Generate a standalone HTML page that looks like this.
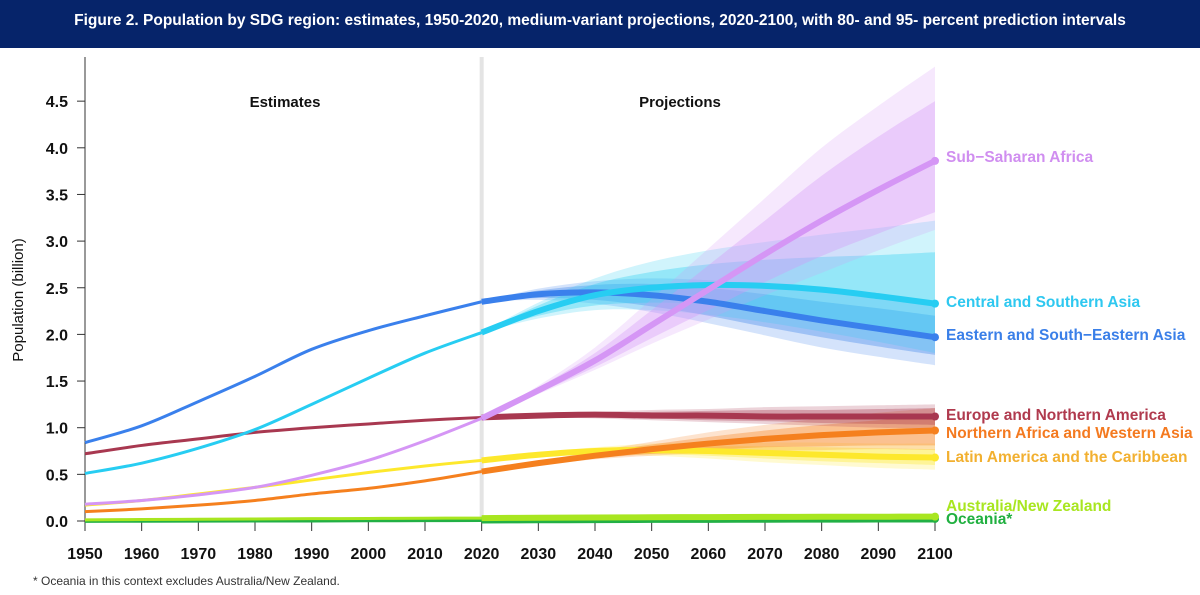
<!DOCTYPE html>
<html><head><meta charset="utf-8"><style>
body{margin:0;width:1200px;height:595px;background:#fff;overflow:hidden;font-family:"Liberation Sans",sans-serif}
#hdr{position:absolute;left:0;top:0;width:1200px;height:48px;background:#06246a;color:#fff;font-weight:bold;font-size:15.5px;text-align:center;line-height:42px;font-family:"Liberation Sans Narrow","Liberation Sans",sans-serif}
#foot{position:absolute;left:33px;top:574px;font-size:12px;color:#333}
svg{position:absolute;left:0;top:0}
</style></head><body>
<div id="hdr">Figure 2. Population by SDG region: estimates, 1950-2020, medium-variant projections, 2020-2100, with 80- and 95- percent prediction intervals</div>
<svg id="chart" width="1200" height="595"></svg>
<div id="foot">* Oceania in this context excludes Australia/New Zealand.</div>
<script>
const estYears=[1950,1960,1970,1980,1990,2000,2010,2020];
const projYears=[2020,2030,2040,2050,2060,2070,2080,2090,2100];
const xTicks=[1950,1960,1970,1980,1990,2000,2010,2020,2030,2040,2050,2060,2070,2080,2090,2100];
const yTicks=[0,0.5,1,1.5,2,2.5,3,3.5,4,4.5];
const yTickLabels=["0.0","0.5","1.0","1.5","2.0","2.5","3.0","3.5","4.0","4.5"];
const seriesNames=["Sub\u2212Saharan Africa","Central and Southern Asia","Eastern and South\u2212Eastern Asia","Europe and Northern America","Northern Africa and Western Asia","Latin America and the Caribbean","Australia/New Zealand","Oceania*"];
const seriesColors=["#d596f5","#27cdf2","#3a80ec","#a83850","#f5801e","#fde82c","#a8e620","#22b045"];
const labelColors=["#d08ef0","#2ec8f0","#3a7fe8","#b03a4e","#f47a20","#f2b030","#a8e620","#20b040"];
const labelY=[157,302,335,415,433,457,506,519];
const sEst=[[0.18,0.22,0.28,0.36,0.49,0.65,0.86,1.1],[0.51,0.62,0.78,0.98,1.25,1.53,1.8,2.02],[0.84,1.02,1.28,1.55,1.84,2.04,2.2,2.35],[0.72,0.81,0.88,0.95,1.0,1.04,1.08,1.11],[0.1,0.13,0.17,0.22,0.29,0.35,0.43,0.53],[0.17,0.22,0.29,0.36,0.44,0.52,0.59,0.65],[0.012,0.016,0.019,0.022,0.025,0.027,0.03,0.031],[0.002,0.003,0.004,0.005,0.006,0.008,0.009,0.011]];
const sProj=[[1.1,1.4,1.72,2.1,2.48,2.86,3.22,3.55,3.86],[2.02,2.25,2.42,2.5,2.53,2.52,2.48,2.41,2.33],[2.35,2.43,2.45,2.42,2.35,2.25,2.15,2.06,1.97],[1.11,1.13,1.14,1.13,1.13,1.12,1.12,1.12,1.12],[0.53,0.62,0.7,0.77,0.83,0.88,0.92,0.95,0.97],[0.65,0.71,0.75,0.76,0.75,0.73,0.71,0.69,0.68],[0.031,0.035,0.038,0.04,0.042,0.044,0.045,0.046,0.047],[0.011,0.013,0.015,0.017,0.018,0.019,0.02,0.021,0.022]];
const lo95=[[1.1,1.36,1.62,1.9,2.16,2.42,2.66,2.9,3.12],[2.02,2.17,2.26,2.26,2.21,2.13,2.03,1.92,1.8],[2.35,2.37,2.33,2.24,2.12,1.99,1.86,1.76,1.67],[1.11,1.11,1.1,1.08,1.06,1.04,1.02,1.0,0.99],[0.53,0.6,0.66,0.7,0.73,0.75,0.76,0.77,0.76],[0.65,0.69,0.71,0.7,0.67,0.63,0.6,0.57,0.55],[0.031,0.033,0.034,0.035,0.035,0.035,0.035,0.035,0.035],[0.011,0.012,0.013,0.014,0.014,0.014,0.015,0.015,0.015]];
const lo80=[[1.1,1.37,1.65,1.96,2.26,2.56,2.84,3.08,3.31],[2.02,2.2,2.31,2.34,2.32,2.26,2.18,2.07,1.96],[2.35,2.39,2.37,2.3,2.2,2.08,1.97,1.87,1.78],[1.11,1.12,1.11,1.1,1.08,1.07,1.05,1.04,1.03],[0.53,0.61,0.67,0.72,0.76,0.79,0.8,0.81,0.81],[0.65,0.7,0.72,0.72,0.7,0.67,0.64,0.62,0.6],[0.031,0.034,0.035,0.036,0.037,0.038,0.038,0.038,0.038],[0.011,0.012,0.014,0.015,0.016,0.016,0.017,0.017,0.017]];
const hi80=[[1.1,1.43,1.8,2.26,2.74,3.22,3.7,4.12,4.5],[2.02,2.31,2.54,2.67,2.75,2.8,2.83,2.85,2.88],[2.35,2.47,2.53,2.54,2.5,2.43,2.35,2.28,2.2],[1.11,1.14,1.16,1.17,1.18,1.19,1.19,1.2,1.21],[0.53,0.63,0.73,0.82,0.9,0.97,1.03,1.08,1.13],[0.65,0.72,0.78,0.8,0.8,0.8,0.79,0.78,0.77],[0.031,0.036,0.041,0.045,0.048,0.051,0.053,0.055,0.057],[0.011,0.014,0.016,0.019,0.021,0.023,0.025,0.026,0.028]];
const hi95=[[1.1,1.45,1.86,2.38,2.92,3.46,4.0,4.45,4.87],[2.02,2.34,2.6,2.78,2.9,2.99,3.07,3.14,3.22],[2.35,2.49,2.57,2.6,2.58,2.53,2.46,2.4,2.35],[1.11,1.15,1.17,1.19,1.2,1.22,1.23,1.24,1.25],[0.53,0.64,0.75,0.85,0.95,1.03,1.1,1.16,1.21],[0.65,0.73,0.79,0.83,0.84,0.84,0.84,0.83,0.83],[0.031,0.037,0.043,0.048,0.052,0.056,0.059,0.062,0.065],[0.011,0.014,0.017,0.021,0.024,0.026,0.028,0.03,0.032]];

const NS="http://www.w3.org/2000/svg";
const svg=document.getElementById('chart');
const X=y=>85+(y-1950)*(935-85)/150;
const Y=v=>521-v*93.3;
function mk(t,a,p){const e=document.createElementNS(NS,t);for(const k in a)e.setAttribute(k,a[k]);(p||svg).appendChild(e);return e;}
function sm(pts){let d="M"+pts[0][0]+","+pts[0][1];for(let i=0;i<pts.length-1;i++){const p0=pts[i-1]||pts[i],p1=pts[i],p2=pts[i+1],p3=pts[i+2]||p2;d+=" C"+(p1[0]+(p2[0]-p0[0])/6)+","+(p1[1]+(p2[1]-p0[1])/6)+" "+(p2[0]-(p3[0]-p1[0])/6)+","+(p2[1]-(p3[1]-p1[1])/6)+" "+p2[0]+","+p2[1];}return d;}
function pts(xs,vs){return xs.map((x,i)=>[X(x),Y(vs[i])]);}
function band(lo,hi){const a=pts(projYears,hi),b=pts(projYears,lo).reverse();return sm(a)+" L"+sm(b).slice(1)+" Z";}

const dv=mk('line',{x1:X(2020),x2:X(2020),y1:57,y2:521,stroke:'#e4e4e4','stroke-width':4});


const ax=mk('g',{});
mk('line',{x1:85,x2:85,y1:57,y2:521,stroke:'#333','stroke-width':1},ax);
yTicks.forEach((v,i)=>{mk('line',{x1:77,x2:85,y1:Y(v),y2:Y(v),stroke:'#333'},ax);
const t=mk('text',{x:68,y:Y(v)+6,'text-anchor':'end','font-size':16,'font-weight':'bold',fill:'#111'},ax);t.textContent=yTickLabels[i];
});
const xa=mk('g',{});
mk('line',{x1:85,x2:935,y1:521,y2:521,stroke:'#333'},xa);
xTicks.forEach(v=>{mk('line',{x1:X(v),x2:X(v),y1:521,y2:531,stroke:'#333'},xa);
const t=mk('text',{x:X(v),y:559,'text-anchor':'middle','font-size':16,'font-weight':'bold',fill:'#111'},xa);t.textContent=v;
});
const yt=mk('text',{x:23,y:300,transform:'rotate(-90 23 300)','text-anchor':'middle','font-size':15,fill:'#111'});yt.textContent='Population (billion)';

const e1=mk('text',{x:285,y:107,'text-anchor':'middle','font-size':15,'font-weight':'bold',fill:'#111'});e1.textContent='Estimates';

const e2=mk('text',{x:680,y:107,'text-anchor':'middle','font-size':15,'font-weight':'bold',fill:'#111'});e2.textContent='Projections';


const order=[7,6,5,4,3,2,1,0];
order.forEach(i=>{
 const g=mk('g',{});
 mk('path',{d:band(lo95[i],hi95[i]),fill:seriesColors[i],'fill-opacity':0.22},g);
 mk('path',{d:band(lo80[i],hi80[i]),fill:seriesColors[i],'fill-opacity':0.35},g);
});
order.forEach(i=>{
 const g=mk('g',{});
 mk('path',{d:sm(pts(estYears,sEst[i])),fill:'none',stroke:seriesColors[i],'stroke-width':i==7?4:3},g);
 mk('path',{d:sm(pts(projYears,sProj[i])),fill:'none',stroke:seriesColors[i],'stroke-width':i==7?7:6},g);
 mk('circle',{cx:X(2100),cy:Y(sProj[i][8]),r:4,fill:seriesColors[i]},g);
 const t=mk('text',{x:946,y:labelY[i]+5,'font-size':15.5,'font-weight':'bold',fill:labelColors[i]});t.textContent=seriesNames[i];
 
});
</script>
</body></html>
